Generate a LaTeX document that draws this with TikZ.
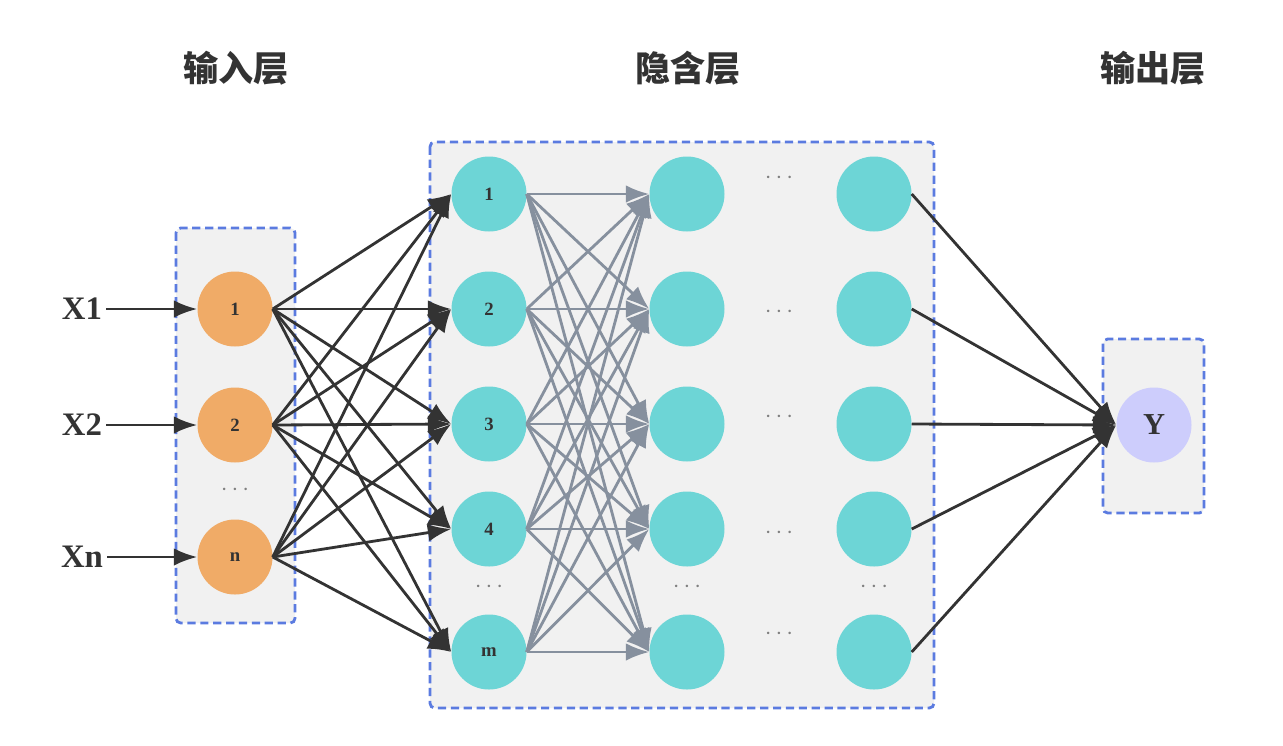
\documentclass[tikz,border=0pt]{standalone}
\usepackage{fontspec}
\setmainfont{Liberation Serif}
\newfontfamily\cjk{Noto Sans CJK SC}
\usetikzlibrary{arrows.meta}
\definecolor{boxblue}{HTML}{5B7BE0}
\definecolor{boxgray}{HTML}{F1F1F1}
\definecolor{inorange}{HTML}{F0AB67}
\definecolor{hidteal}{HTML}{6DD5D6}
\definecolor{outlav}{HTML}{CDCDFC}
\definecolor{edgegray}{HTML}{86909E}
\definecolor{ink}{HTML}{333333}
\begin{document}
\begin{tikzpicture}[x=0.03cm, y=-0.03cm,
    layer/.style={draw=boxblue, dash pattern=on 7pt off 4pt, line width=2.4pt, fill=boxgray, rounded corners=4pt},
    neuron/.style={circle, minimum size=2.25cm, inner sep=0pt, font=\bfseries\fontsize{16}{16}\selectfont, text=ink},
    inp/.style={neuron, fill=inorange},
    hid/.style={neuron, fill=hidteal},
    outp/.style={neuron, fill=outlav, font=\bfseries\fontsize{26}{26}\selectfont},
    title/.style={font=\cjk\bfseries\fontsize{30}{30}\selectfont, text=ink},
    xlabel/.style={font=\bfseries\fontsize{28}{28}\selectfont, text=ink},
    dots/.style={text=gray, font=\fontsize{20}{20}\selectfont},
    wire/.style={draw=ink, line width=2.4pt, -{Latex[length=20pt,width=15pt]}},
    gwire/.style={draw=edgegray, line width=2.4pt, -{Latex[length=20pt,width=15pt]}}]
  \useasboundingbox (0,0) rectangle (1283,745);
  % titles
  \node[title] (tin) at (236,68) {输入层};
  \node[title] (thid) at (688,68) {隐含层};
  \node[title] (tout) at (1153,68) {输出层};
  % layer boxes
  \draw[layer] (176,228) rectangle (295,623);
  \draw[layer] (430,142) rectangle (934,708);
  \draw[layer] (1103,339) rectangle (1204,513);
  % input layer
  \node[inp] (i1) at (235,309) {1};
  \node[inp] (i2) at (235,425) {2};
  \node[inp] (i3) at (235,557) {n};
  \node[dots] at (235,490) {$\cdots$};
  \node[xlabel] (x1) at (82,309) {X1};
  \node[xlabel] (x2) at (82,425) {X2};
  \node[xlabel] (x3) at (82,557) {Xn};
  \foreach \k in {1,2,3}
    \draw[wire] (x\k) -- (i\k.west);
  % hidden layers
  \foreach \lab/\y [count=\k] in {1/194,2/309,3/424,4/529,m/652}{
    \node[hid] (a\k) at (489,\y) {\lab};
    \node[hid] (b\k) at (687,\y) {};
    \node[hid] (c\k) at (874,\y) {};
  }
  \foreach \x in {489,687,874}
    \node[dots] at (\x,587) {$\cdots$};
  \foreach \y in {178,312,417,533,634}
    \node[dots] at (779,\y) {$\cdots$};
  % output layer
  \node[outp] (y) at (1154,425) {Y};
  % connections
  \foreach \i in {1,2,3}
    \foreach \j in {1,...,5}
      \draw[wire] (i\i.east) -- (a\j.west);
  \foreach \i in {1,...,5}
    \foreach \j in {1,...,5}
      \draw[gwire] (a\i.east) -- (b\j.west);
  \foreach \i in {1,...,5}
    \draw[wire] (c\i.east) -- (y.west);
\end{tikzpicture}
\end{document}
